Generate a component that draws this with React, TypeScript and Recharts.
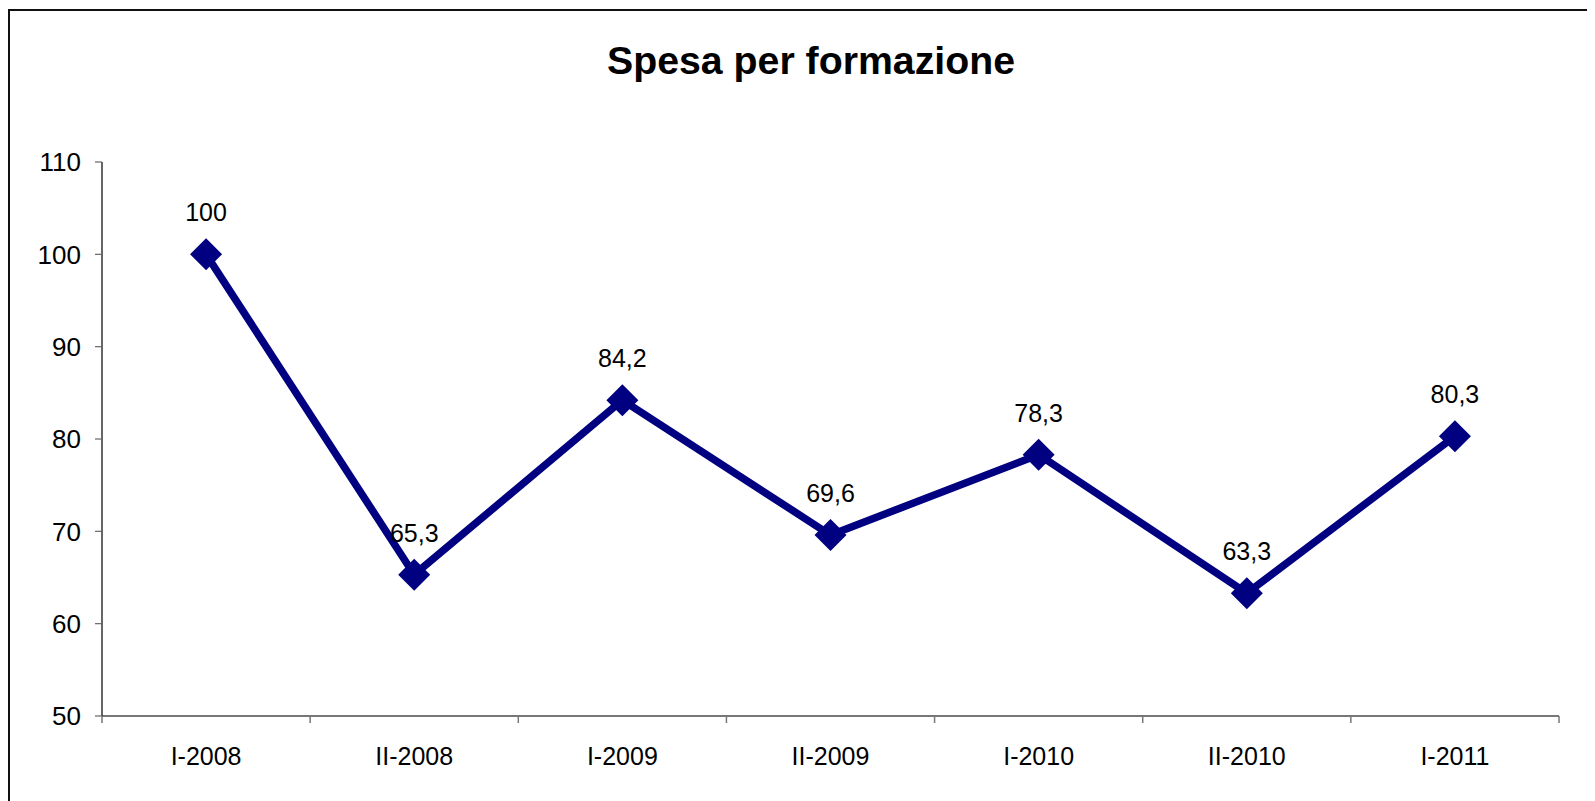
import React from 'react';
import { LineChart, Line, XAxis, YAxis, LabelList } from 'recharts';

const categories = ['I-2008', 'II-2008', 'I-2009', 'II-2009', 'I-2010', 'II-2010', 'I-2011'];
const values = [100, 65.3, 84.2, 69.6, 78.3, 63.3, 80.3];
const yTicks = [50, 60, 70, 80, 90, 100, 110];
const title = 'Spesa per formazione';

const FONT = '"Liberation Sans", Arial, sans-serif';
const NAVY = '#000080';

const data = categories.map((c, i) => ({
  pos: i + 0.5,
  cat: c,
  value: values[i],
  label: String(values[i]).replace('.', ','),
}));

const xTicks: number[] = [];
for (let i = 0; i <= categories.length; i++) {
  xTicks.push(i);
  if (i < categories.length) xTicks.push(i + 0.5);
}

const XTick = (props: any) => {
  const { x, y, payload } = props;
  const v = payload.value as number;
  if (Number.isInteger(v)) {
    return <line x1={x} x2={x} y1={y} y2={y + 7} stroke="#777" strokeWidth={1.5} />;
  }
  return (
    <text x={x} y={y + 49} textAnchor="middle" fontSize={25} fill="#000" fontFamily={FONT}>
      {categories[Math.floor(v)]}
    </text>
  );
};

const Diamond = (props: any) => {
  const { cx, cy } = props;
  if (cx == null || cy == null) return null;
  const r = 16;
  return (
    <polygon
      points={`${cx},${cy - r} ${cx + r},${cy} ${cx},${cy + r} ${cx - r},${cy}`}
      fill={NAVY}
    />
  );
};

export default function App() {
  return (
    <div style={{ position: 'relative', width: 1587, height: 793, overflow: 'hidden', background: '#fff' }}>
      <style>{'html,body{overflow:hidden}'}</style>
      <div
        style={{
          position: 'absolute',
          left: 0,
          top: 1,
          width: 1700,
          height: 900,
          borderLeft: '2px solid #111',
          borderTop: '2px solid #111',
        }}
      />
      <svg style={{ position: 'absolute', left: 0, top: 0 }} width={1587} height={120}>
        <text
          x={803}
          y={66}
          textAnchor="middle"
          fontWeight="bold"
          fontSize={38}
          fontFamily={FONT}
          textLength={408}
          lengthAdjust="spacingAndGlyphs"
          fill="#000"
        >
          {title}
        </text>
      </svg>
      <div style={{ position: 'absolute', left: 0, top: 0 }}>
        <LineChart
          width={1587}
          height={785}
          data={data}
          margin={{ top: 154, right: 36, bottom: 17, left: 34 }}
          style={{ fontFamily: FONT }}
        >
          <XAxis
            dataKey="pos"
            type="number"
            domain={[0, categories.length]}
            ticks={xTicks}
            interval={0}
            height={60}
            tickLine={false}
            tickSize={0}
            tickMargin={0}
            axisLine={{ stroke: '#777', strokeWidth: 2 }}
            tick={<XTick />}
          />
          <YAxis
            type="number"
            domain={[50, 110]}
            ticks={yTicks}
            interval={0}
            width={60}
            tickSize={7}
            tickMargin={14}
            axisLine={{ stroke: '#000', strokeWidth: 1.2 }}
            tickLine={{ stroke: '#666', strokeWidth: 1.2 }}
            tick={{ fontSize: 26, fill: '#000', fontFamily: FONT }}
          />
          <Line
            type="linear"
            dataKey="value"
            stroke={NAVY}
            strokeWidth={7.5}
            dot={<Diamond />}
            activeDot={false}
            isAnimationActive={false}
          >
            <LabelList dataKey="label" position="top" offset={33} fontSize={25} fill="#000" fontFamily={FONT} />
          </Line>
        </LineChart>
      </div>
    </div>
  );
}
